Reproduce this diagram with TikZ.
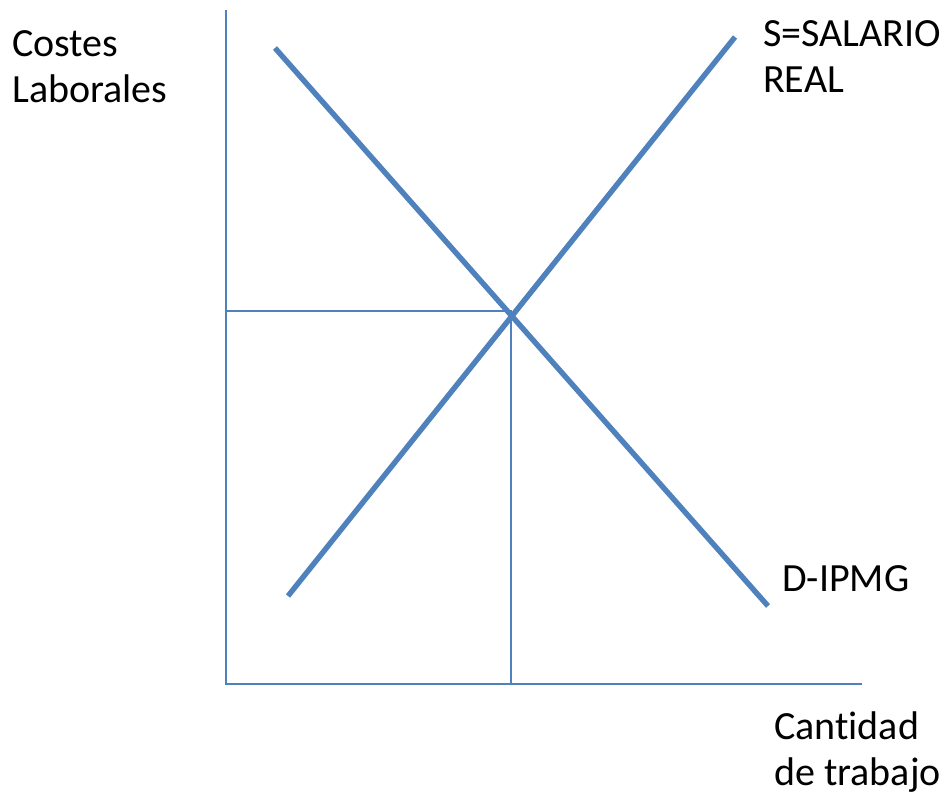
\documentclass[tikz,border=0pt]{standalone}
\usepackage{fontspec}
\setmainfont[Ligatures=NoCommon]{Carlito}
\usetikzlibrary{positioning}
\definecolor{officeblue}{RGB}{79,129,189}
\tikzset{axisline/.style={officeblue,line width=2.8pt},
  curve/.style={officeblue,line width=5.4pt},
  guide/.style={officeblue,line width=2.2pt},
  lbl/.style={anchor=base west,inner sep=0pt,font=\fontsize{40}{46}\selectfont,align=left}}
\begin{document}
\begin{tikzpicture}[x=1pt,y=-1pt]
\useasboundingbox (0,0) rectangle (943,796);
% axes
\coordinate (top) at (226,10);
\coordinate (origin) at (226,684);
\coordinate (right) at (862,684);
\draw[axisline] (top) -- (origin) -- (right);
% equilibrium guides
\coordinate (eq) at (511,311);
\coordinate (eqy) at (226,311);
\coordinate (eqx) at (511,684);
\draw[guide] (eqy) -- (eq) -- (eqx);
% demand and supply
\coordinate (d1) at (275,48);
\coordinate (d2) at (768,606);
\coordinate (s1) at (288,596);
\coordinate (s2) at (735,37);
\draw[curve] (d1) -- (d2);
\draw[curve] (s1) -- (s2);
% labels (base = last line)
\node[lbl] (ylab) at (12,102) {Costes\\Laborales};
\node[lbl] (slab) at (763,92) {S=SALARIO\\REAL};
\node[lbl] (dlab) at (782,591) {D-IPMG};
\node[lbl] (xlab) at (774,785) {Cantidad\\de trabajo};
\end{tikzpicture}
\end{document}
